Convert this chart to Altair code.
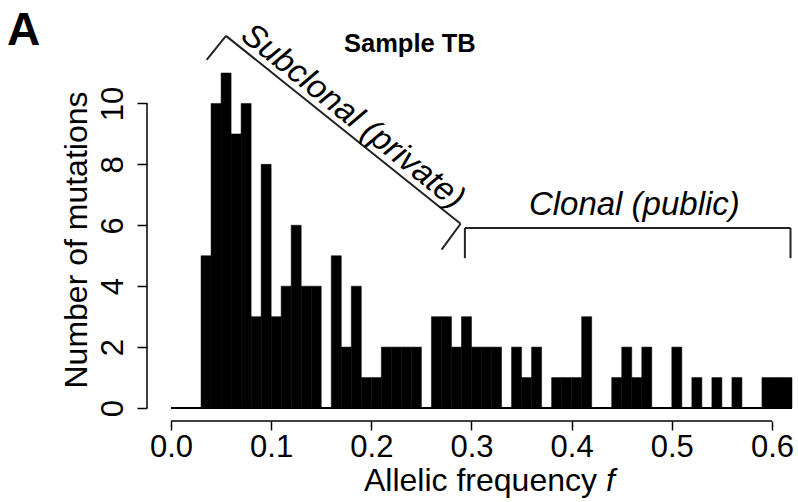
import altair as alt
import pandas as pd

# ---- data: histogram of allelic frequency (bin width 0.01) ----
bin_starts = [round(i * 0.01, 2) for i in range(62)]
counts = [0, 0, 0, 5, 10, 11, 9, 10, 3, 8,
          3, 4, 6, 4, 4, 0, 5, 2, 4, 1,
          1, 2, 2, 2, 2, 0, 3, 3, 2, 3,
          2, 2, 2, 0, 2, 1, 2, 0, 1, 1,
          1, 3, 0, 0, 1, 2, 1, 2, 0, 0,
          2, 0, 1, 0, 1, 0, 1, 0, 0, 1,
          1, 1]
x_ticks = [0.0, 0.1, 0.2, 0.3, 0.4, 0.5, 0.6]
y_ticks = [0, 2, 4, 6, 8, 10]

# bracket geometry (data units: frequency, count)
sub_x = [0.0356, 0.0549, 0.2891, 0.2702]
sub_y = [11.43, 12.22, 6.05, 5.20]
clo_x = [0.2934, 0.2934, 0.6185, 0.6185]
clo_y = [4.92, 5.91, 5.91, 4.92]

FONT = "Liberation Sans"

hist = pd.DataFrame({
    "start": bin_starts,
    "end": [round(s + 0.01, 2) for s in bin_starts],
    "count": counts,
})
one = pd.DataFrame({"k": [0]})

segs = []
for xs, ys in ((sub_x, sub_y), (clo_x, clo_y)):
    for i in range(len(xs) - 1):
        segs.append({"x": xs[i], "y": ys[i], "x2": xs[i + 1], "y2": ys[i + 1]})
segs = pd.DataFrame(segs)

W, H = 621, 335
xscale = alt.Scale(domain=[0, 0.62], nice=False, zero=False)
yscale = alt.Scale(domain=[0, 11], nice=False)

bars = alt.Chart(hist).transform_filter("datum.count > 0").mark_rect(
    color="black", stroke="black", strokeWidth=0.5
).encode(
    x=alt.X("start:Q", scale=xscale,
            axis=alt.Axis(values=x_ticks, format=".1f", title="", offset=13,
                          domain=False, grid=False, tickSize=9, tickWidth=1.5,
                          tickColor="black", labelFontSize=31, labelFont=FONT,
                          labelColor="black", labelPadding=2, labelFlush=False)),
    x2="end:Q",
    y=alt.Y("count:Q", scale=yscale,
            axis=alt.Axis(values=y_ticks, title="", offset=24, domain=False,
                          grid=False, tickSize=10, tickWidth=1.5,
                          tickColor="black", labelFontSize=31, labelFont=FONT,
                          labelColor="black", labelAngle=-90,
                          labelAlign="center", labelBaseline="bottom",
                          labelPadding=8, labelFlush=False)),
    y2=alt.datum(0),
)

zero_line = alt.Chart(one).mark_rule(color="black", strokeWidth=2).encode(
    x=alt.datum(0.0), x2=alt.datum(0.62), y=alt.datum(0)
)

x_domain = alt.Chart(one).mark_rule(color="black", strokeWidth=1.5).encode(
    x=alt.datum(0.0), x2=alt.datum(0.6), y=alt.value(H + 13)
)
y_domain = alt.Chart(one).mark_rule(color="black", strokeWidth=1.5).encode(
    y=alt.datum(0), y2=alt.datum(10), x=alt.value(-24)
)

brackets = alt.Chart(segs).mark_rule(color="#222222", strokeWidth=2).encode(
    x="x:Q", y="y:Q", x2="x2:Q", y2="y2:Q"
)

sub_text = alt.Chart(one).mark_text(
    text="Subclonal (private)", font=FONT, fontSize=33, fontStyle="italic",
    angle=38.7, align="center", baseline="middle", color="black"
).encode(x=alt.datum(0.1816), y=alt.datum(9.57))

clo_text = alt.Chart(one).mark_text(
    text="Clonal (public)", font=FONT, fontSize=33, fontStyle="italic",
    align="center", baseline="middle", color="black"
).encode(x=alt.datum(0.4626), y=alt.datum(6.67))

panel = alt.Chart(one).mark_text(
    text="A", font=FONT, fontSize=46, fontWeight="bold", align="left",
    baseline="alphabetic", color="black"
).encode(x=alt.value(-164), y=alt.value(-28))

title = alt.Chart(one).mark_text(
    text="Sample TB", font=FONT, fontSize=25.5, fontWeight="bold", align="left",
    baseline="alphabetic", color="black"
).encode(x=alt.value(173), y=alt.value(-21))

ytitle = alt.Chart(one).mark_text(
    text="Number of mutations", font=FONT, fontSize=32, angle=270,
    align="center", baseline="middle", color="black"
).encode(x=alt.value(-94), y=alt.value(167))

xtitle1 = alt.Chart(one).mark_text(
    text="Allelic frequency", font=FONT, fontSize=32, align="left",
    baseline="alphabetic", color="black"
).encode(x=alt.value(193), y=alt.value(418))

xtitle2 = alt.Chart(one).mark_text(
    text="f", font=FONT, fontSize=32, fontStyle="italic", align="left",
    baseline="alphabetic", color="black"
).encode(x=alt.value(435), y=alt.value(418))

chart = alt.layer(
    bars, zero_line, x_domain, y_domain, brackets, sub_text, clo_text,
    panel, title, ytitle, xtitle1, xtitle2
).properties(
    width=W, height=H,
    autosize=alt.AutoSizeParams(type="none"),
    padding={"left": 171, "top": 73, "right": 6, "bottom": 94},
    background="white",
).configure_view(stroke=None)

chart.save("out.html", embed_options={"renderer": "svg", "actions": False})
